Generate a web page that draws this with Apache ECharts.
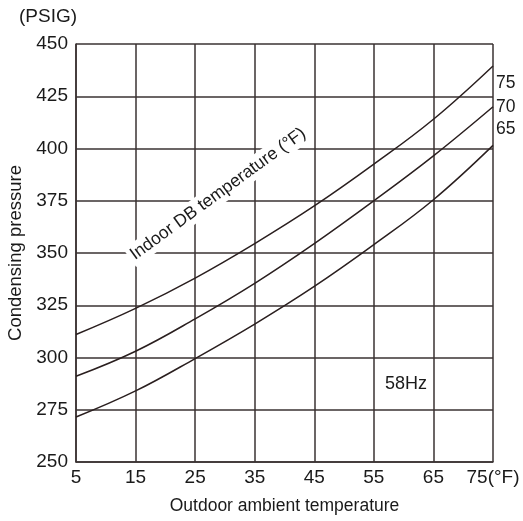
<!DOCTYPE html>
<html>
<head>
<meta charset="utf-8">
<script src="https://cdn.jsdelivr.net/npm/echarts@6/dist/echarts.min.js"></script>
<style>
  html, body { margin: 0; padding: 0; background: #fff; }
  #chart { width: 523px; height: 521px; }
</style>
</head>
<body>
<div id="chart"></div>
<script>
// Outdoor ambient temperature (°F)
const outdoorTemps = [5, 15, 25, 35, 45, 55, 65, 75];

// Condensing pressure (PSIG) for each indoor DB temperature
const indoor75 = [311, 323.5, 338, 354.5, 372.5, 392.5, 414, 439.5];
const indoor70 = [291, 303, 318.5, 335.5, 354.5, 375, 396.5, 420];
const indoor65 = [271.5, 284, 299.5, 316, 334, 354, 375.5, 401.5];

const curveNames = ['75', '70', '65'];
const curveValues = [indoor75, indoor70, indoor65];
const endLabelOffsets = [[0, 17], [0, 0], [0, -16]];

const FONT = 'Liberation Sans, Arial, sans-serif';
const INK = '#1a1a1a';
const LINE = '#3a3232';

const chart = echarts.init(document.getElementById('chart'), null, { renderer: 'canvas' });

const series = curveValues.map((vals, i) => ({
  name: curveNames[i],
  type: 'line',
  smooth: 0.4,
  symbol: 'none',
  data: outdoorTemps.map((t, j) => [t, vals[j]]),
  lineStyle: { color: '#2a1f1f', width: 1.5 },
  endLabel: {
    show: true,
    formatter: curveNames[i],
    color: INK,
    fontFamily: FONT,
    fontSize: 17.5,
    distance: 3,
    offset: endLabelOffsets[i]
  },
  z: 3
}));

chart.setOption({
  animation: false,
  backgroundColor: '#fff',
  grid: {
    left: 76, right: 30, top: 44, bottom: 59,
    containLabel: false,
    outerBoundsMode: 'none'
  },
  xAxis: {
    type: 'value',
    min: 5,
    max: 75,
    interval: 10,
    name: 'Outdoor ambient temperature',
    nameLocation: 'middle',
    nameGap: 35,
    nameTextStyle: { color: INK, fontFamily: FONT, fontSize: 17.5 },
    axisLine: { show: true, lineStyle: { color: LINE, width: 1.5 } },
    axisTick: { show: false },
    axisLabel: {
      color: INK, fontFamily: FONT, fontSize: 19, margin: 6,
      formatter: v => (v === 75 ? '75(°F)' : String(v))
    },
    splitLine: { show: true, lineStyle: { color: LINE, width: 1.5 } }
  },
  yAxis: {
    type: 'value',
    min: 250,
    max: 450,
    interval: 25,
    name: 'Condensing pressure',
    nameLocation: 'middle',
    nameGap: 48,
    nameTextStyle: { color: INK, fontFamily: FONT, fontSize: 18.5 },
    axisLine: { show: true, lineStyle: { color: LINE, width: 1.5 } },
    axisTick: { show: false },
    axisLabel: { color: INK, fontFamily: FONT, fontSize: 19, margin: 8 },
    splitLine: { show: true, lineStyle: { color: LINE, width: 1.5 } }
  },
  graphic: [
    {
      type: 'text',
      left: 19,
      top: 7,
      style: { text: '(PSIG)', fill: INK, font: '19px ' + FONT }
    },
    {
      type: 'text',
      x: 218,
      y: 194,
      rotation: 36 * Math.PI / 180,
      z: 10,
      style: {
        text: 'Indoor DB temperature (°F)',
        fill: INK,
        font: '17.5px ' + FONT,
        align: 'center',
        verticalAlign: 'middle',
        backgroundColor: '#fff',
        padding: [2, 3]
      }
    },
    {
      type: 'text',
      x: 406,
      y: 384,
      z: 10,
      style: {
        text: '58Hz',
        fill: INK,
        font: '18px ' + FONT,
        align: 'center',
        verticalAlign: 'middle'
      }
    }
  ],
  series: series
});
</script>
</body>
</html>
